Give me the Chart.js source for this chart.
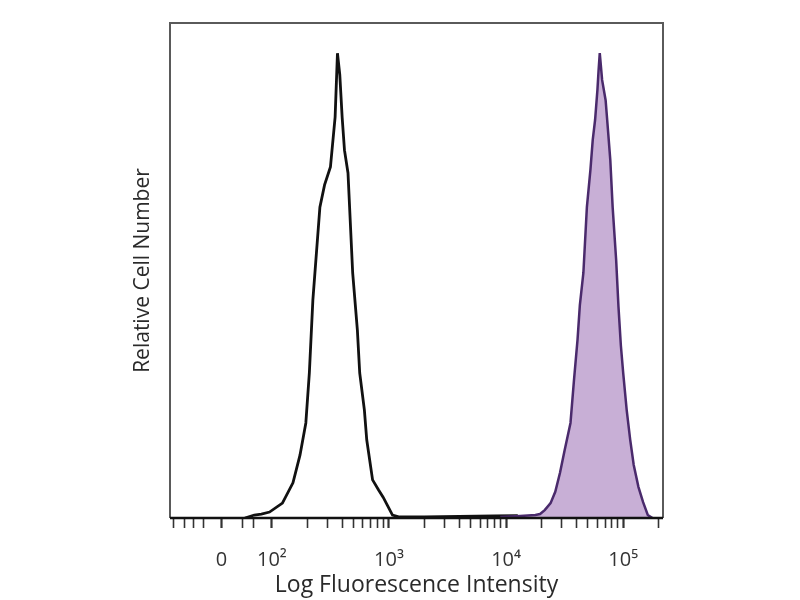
<!DOCTYPE html>
<html>
<head>
<meta charset="utf-8">
<script src="https://cdn.jsdelivr.net/npm/chart.js@4.4.1/dist/chart.umd.min.js"></script>
<style>
  html, body { margin: 0; padding: 0; background: #fff; }
  #wrap { width: 800px; height: 600px; }
</style>
</head>
<body>
<div id="wrap"><canvas id="c" width="800" height="600"></canvas></div>
<script>
// x values are in decades (log10 of intensity); "0" sits in the linear (biexponential) zone
const controlX = [1.77,1.85,1.91,1.98,2.09,2.18,2.24,2.29,2.32,2.35,2.41,2.45,2.50,2.54,2.56,2.58,2.60,2.62,2.65,2.69,2.73,2.75,2.79,2.81,2.86,2.91,2.95,2.99,3.03,3.09,3.30,3.60,3.90,4.10];
const controlY = [0,0.6,0.8,1.2,3.0,7.1,12.7,19.2,29.3,44.0,62.8,67.3,70.9,81.0,93.9,89.5,81.0,74.3,69.7,49.5,38.0,29.3,21.8,15.8,7.7,5.7,4.2,2.4,0.6,0.2,0.2,0.3,0.4,0.5];

const stainedX = [3.95,4.12,4.25,4.29,4.33,4.38,4.42,4.46,4.50,4.55,4.58,4.61,4.63,4.66,4.69,4.72,4.74,4.76,4.78,4.79,4.80,4.82,4.85,4.87,4.89,4.91,4.94,4.96,4.98,5.00,5.03,5.06,5.09,5.13,5.17,5.21,5.25];
const stainedY = [0.2,0.4,0.6,0.8,1.6,3.0,5.3,9.1,13.7,19.2,27.9,36.0,43.0,49.5,62.8,70.3,76.4,80.4,86.5,90.5,93.9,88.5,84.4,78.4,72.3,62.8,52.1,42.6,34.9,29.3,21.8,15.8,10.7,6.3,3.2,0.6,0];

const majorTickPos = [1.57, 2, 3, 4, 5];
const majorTickLabels = ['0', '10²', '10³', '10⁴', '10⁵'];
const minorTickPos = [1.16,1.25,1.33,1.42,1.75,1.84,
  2.301,2.477,2.602,2.699,2.778,2.845,2.903,2.954,
  3.301,3.477,3.602,3.699,3.778,3.845,3.903,3.954,
  4.301,4.477,4.602,4.699,4.778,4.845,4.903,4.954,5.301];

const xMin = 1.13, xMax = 5.34;
const xTitle = 'Log Fluorescence Intensity';
const yTitle = 'Relative Cell Number';

const toPts = (xs, ys) => xs.map((x, i) => ({x: x, y: ys[i]}));

const frame = {
  id: 'frame',
  afterDatasetsDraw(chart) {
    const a = chart.chartArea, ctx = chart.ctx;
    ctx.save();
    ctx.strokeStyle = '#5a5a5a';
    ctx.lineWidth = 2;
    ctx.beginPath();
    ctx.moveTo(a.left, a.bottom);
    ctx.lineTo(a.left, a.top);
    ctx.lineTo(a.right, a.top);
    ctx.lineTo(a.right, a.bottom);
    ctx.stroke();
    ctx.strokeStyle = '#111';
    ctx.lineWidth = 2.5;
    ctx.beginPath();
    ctx.moveTo(a.left, a.bottom);
    ctx.lineTo(a.right, a.bottom);
    ctx.stroke();
    ctx.restore();
  }
};

new Chart(document.getElementById('c'), {
  type: 'line',
  data: {
    datasets: [
      {
        label: 'stained',
        data: toPts(stainedX, stainedY),
        borderColor: '#4a2a6c',
        backgroundColor: '#c8afd6',
        fill: 'origin',
        borderWidth: 2.5,
        pointRadius: 0,
        tension: 0
      },
      {
        label: 'control',
        data: toPts(controlX, controlY),
        borderColor: '#111111',
        backgroundColor: 'rgba(0,0,0,0)',
        fill: false,
        borderWidth: 2.8,
        pointRadius: 0,
        tension: 0
      }
    ]
  },
  options: {
    responsive: false,
    animation: false,
    layout: { padding: { left: 130, right: 137, top: 23, bottom: 0 } },
    plugins: { legend: { display: false }, tooltip: { enabled: false } },
    scales: {
      x: {
        type: 'linear',
        min: xMin,
        max: xMax,
        afterBuildTicks(scale) {
          const all = majorTickPos.concat(minorTickPos).sort((a, b) => a - b);
          scale.ticks = all.map(v => ({ value: v }));
        },
        afterFit(scale) { scale.height = 82; },
        border: { display: false },
        grid: {
          drawOnChartArea: false,
          drawTicks: true,
          tickLength: 10,
          tickColor: '#333',
          tickWidth: (ctx) => majorTickPos.includes(ctx.tick && ctx.tick.value) ? 2.2 : 1.6
        },
        ticks: {
          autoSkip: false,
          maxRotation: 0,
          padding: 20,
          color: '#333',
          font: { family: 'Open Sans', size: 20 },
          callback: (v) => {
            const i = majorTickPos.indexOf(v);
            return i >= 0 ? majorTickLabels[i] : '';
          }
        },
        title: {
          display: true,
          text: xTitle,
          color: '#2a2a2a',
          font: { family: 'Open Sans', size: 23 },
          padding: { top: 0, bottom: 1 }
        }
      },
      y: {
        type: 'linear',
        min: 0,
        max: 100,
        afterFit(scale) { scale.width = 40; },
        border: { display: false },
        grid: { display: false },
        ticks: { display: false },
        title: {
          display: true,
          text: yTitle,
          color: '#2a2a2a',
          font: { family: 'Open Sans', size: 21 },
          padding: { top: 0, bottom: 0 }
        }
      }
    }
  },
  plugins: [frame]
});
</script>
</body>
</html>
